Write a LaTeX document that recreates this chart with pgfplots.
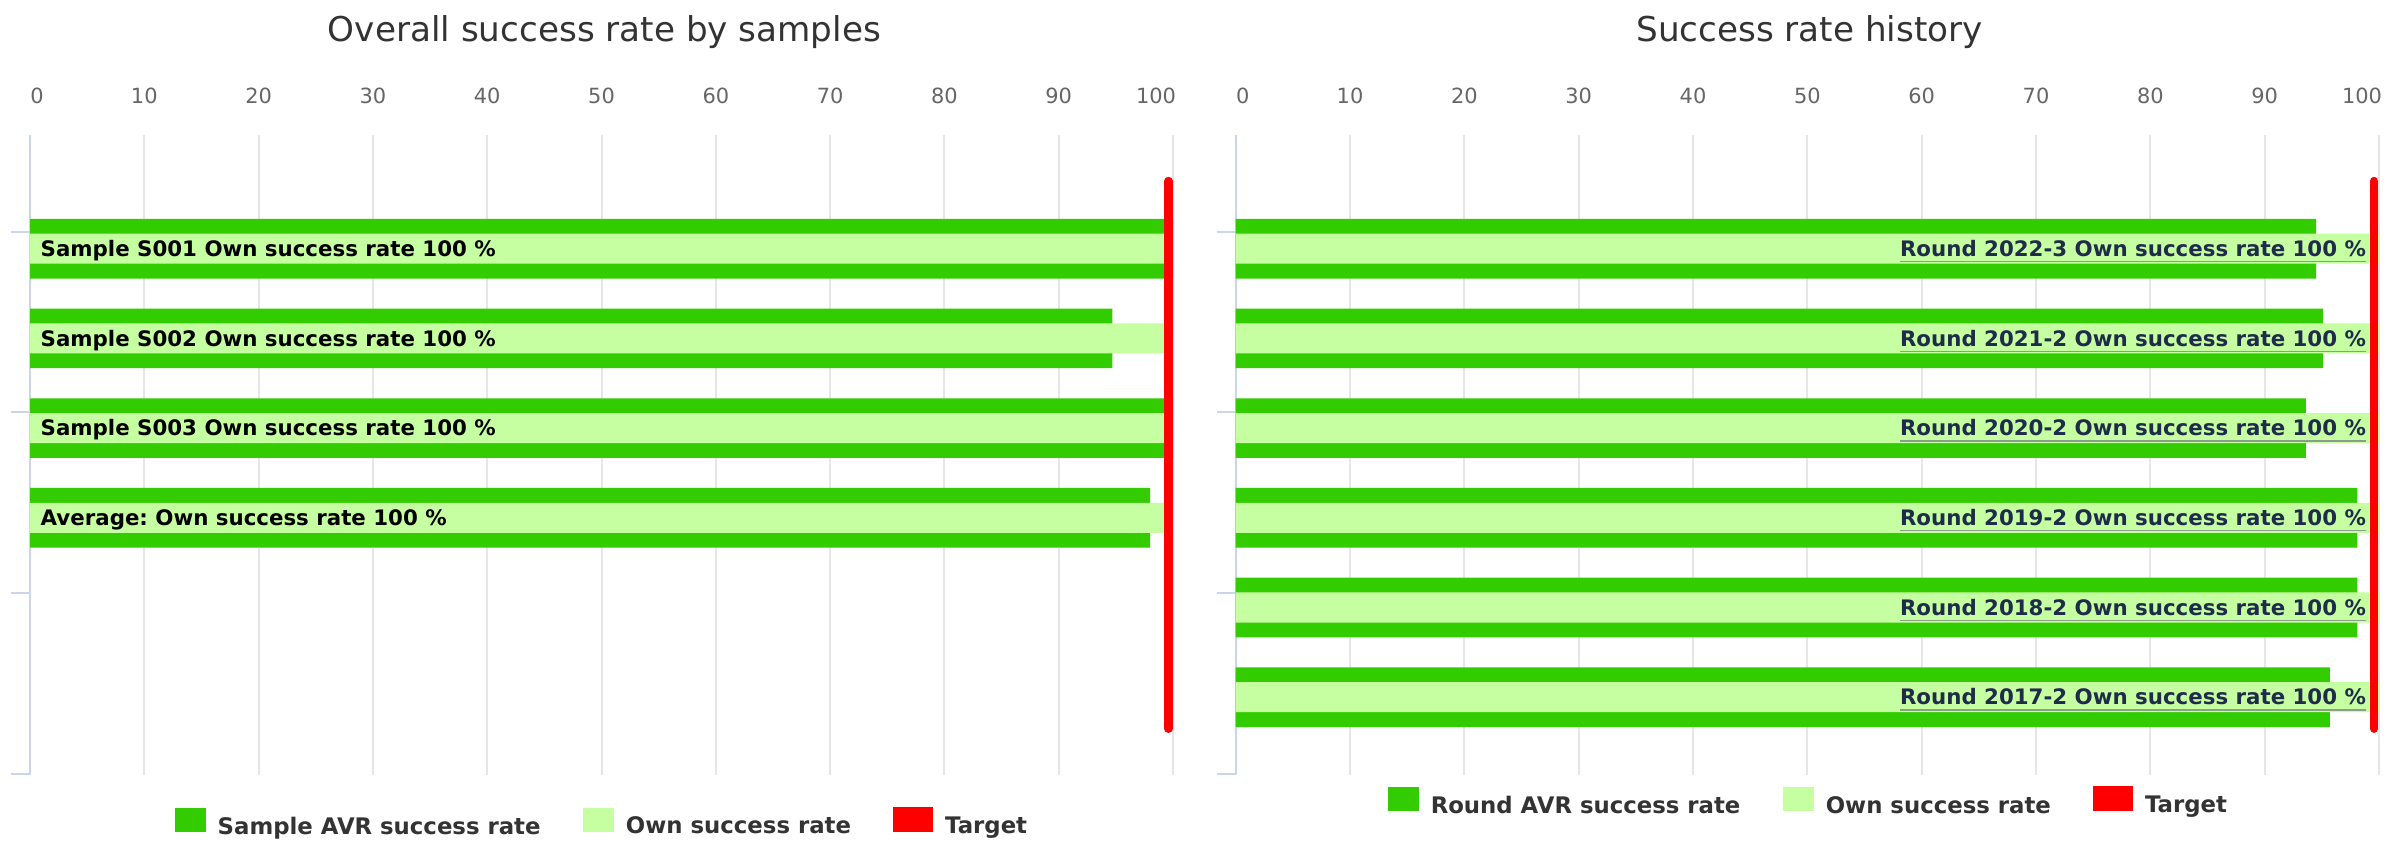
\documentclass[border=0pt]{standalone}
\usepackage{fontspec}
\setmainfont{DejaVu Sans}
\usepackage{pgfplots}
\pgfplotsset{compat=1.18}
\frenchspacing
\definecolor{dkg}{HTML}{33CC00}
\definecolor{ltg}{HTML}{C6FFA1}
\definecolor{tgt}{HTML}{FF0000}
\definecolor{gridc}{HTML}{E6E6E6}
\definecolor{axc}{HTML}{CCD6EB}
\definecolor{tickc}{HTML}{666666}
\definecolor{titc}{HTML}{333333}
\definecolor{navy}{HTML}{1F2B4B}
\definecolor{ulc}{HTML}{8E9C8E}
\newcommand\ulnavy[1]{{\color{ulc}\underline{\color{navy}#1}}}
\pgfplotsset{
  hc/.style={
    scale only axis, width=114.3mm, height=64mm,
    xmin=0, xmax=100, xtick={0,10,...,100},
    y dir=reverse, ymin=-1.2676, ymax=5.8673,
    ytick={-0.1895,1.8239,3.8372,5.8506}, yticklabels={},
    axis x line*=top, axis y line*=left,
    x axis line style={draw=none},
    y axis line style={color=axc, line width=0.2mm},
    xmajorgrids, grid style={color=gridc, line width=0.2mm},
    tick align=outside, major tick length=1.9mm,
    xtick style={draw=none},
    ytick style={color=axc, line width=0.2mm},
    /pgf/number format/assume math mode=true,
    xticklabel style={font=\fontsize{5.95}{7}\selectfont, text=tickc, anchor=base, yshift=1.2mm},
    xticklabel={\ifnum\ticknum=0 \hspace*{1.4mm}\fi\pgfmathprintnumber{\tick}\ifnum\ticknum=10 \hspace*{3.4mm}\fi},
    legend columns=3,
    legend style={draw=none, fill=none, anchor=center,
      font=\bfseries\fontsize{6.49}{8}\selectfont,
      nodes={inner sep=0pt, text=titc},
      /tikz/every odd column/.append style={column sep=1.2mm},
      /tikz/every even column/.append style={column sep=4.24mm}},
  },
  gbar/.style={xbar, bar shift=0pt, draw=none,
    legend image code/.code={\fill[##1] (0mm,-0.35mm) rectangle (3.1mm,2.05mm);}},
  tline/.style={tgt, line width=0.87mm, line cap=round,
    legend image code/.code={\fill[tgt] (0mm,0.05mm) rectangle (3.1mm,1.7mm);}},
  lab/.style={only marks, mark=*, mark size=0pt, mark options={draw=none, fill=none},
    point meta=explicit symbolic, nodes near coords, forget plot},
}
\begin{document}
\frenchspacing
\begin{tikzpicture}
\path[use as bounding box, fill=white] (0mm,0mm) rectangle (240.2mm,-84.1mm);
\node[anchor=base, font=\fontsize{9.73}{12}\selectfont, text=titc] at (60.45mm,-4.17mm) {Overall success rate by samples};
\node[anchor=base, font=\fontsize{9.73}{12}\selectfont, text=titc] at (180.95mm,-4.17mm) {Success rate history};

\begin{axis}[hc, at={(3.0mm,-13.5mm)}, anchor=north west,
  legend style={at={(0.4995,-0.0750)}}]
\addplot[gbar, bar width=0.665, fill=dkg] coordinates {(100,0) (94.7,1) (100,2) (98.0,3)};
\addlegendentry{Sample AVR success rate}
\addplot[gbar, bar width=0.335, fill=ltg] coordinates {(100,0) (100,1) (100,2) (100,3)};
\addlegendentry{Own success rate}
\addplot[lab, nodes near coords style={anchor=base west, inner sep=0pt, yshift=-0.77mm,
    font=\bfseries\fontsize{6.07}{7}\selectfont, text=black}]
  table[meta=lab, row sep=\\] {
  x y lab \\
  0.875 0 {Sample S001 Own success rate 100 \%} \\
  0.875 1 {Sample S002 Own success rate 100 \%} \\
  0.875 2 {Sample S003 Own success rate 100 \%} \\
  0.875 3 {Average: Own success rate 100 \%} \\
};
\addplot[tline] coordinates {(99.59,-0.753) (99.59,5.35)};
\addlegendentry{Target}
\end{axis}

\begin{axis}[hc, width=114.33mm, at={(123.57mm,-13.5mm)}, anchor=north west,
  legend style={at={(0.5000,-0.0425)}}]
\addplot[gbar, bar width=0.665, fill=dkg] coordinates {(94.5,0) (95.1,1) (93.6,2) (98.1,3) (98.1,4) (95.7,5)};
\addlegendentry{Round AVR success rate}
\addplot[gbar, bar width=0.335, fill=ltg] coordinates {(100,0) (100,1) (100,2) (100,3) (100,4) (100,5)};
\addlegendentry{Own success rate}
\addplot[lab, nodes near coords={\ulnavy{\pgfplotspointmeta}},
  nodes near coords style={anchor=base east, inner sep=0pt, yshift=-0.77mm,
    font=\bfseries\fontsize{6.07}{7}\selectfont}]
  table[meta=lab, row sep=\\] {
  x y lab \\
  98.92 0 {Round 2022-3 Own success rate 100 \%} \\
  98.92 1 {Round 2021-2 Own success rate 100 \%} \\
  98.92 2 {Round 2020-2 Own success rate 100 \%} \\
  98.92 3 {Round 2019-2 Own success rate 100 \%} \\
  98.92 4 {Round 2018-2 Own success rate 100 \%} \\
  98.92 5 {Round 2017-2 Own success rate 100 \%} \\
};
\addplot[tline] coordinates {(99.56,-0.753) (99.56,5.35)};
\addlegendentry{Target}
\end{axis}
\end{tikzpicture}
\end{document}
